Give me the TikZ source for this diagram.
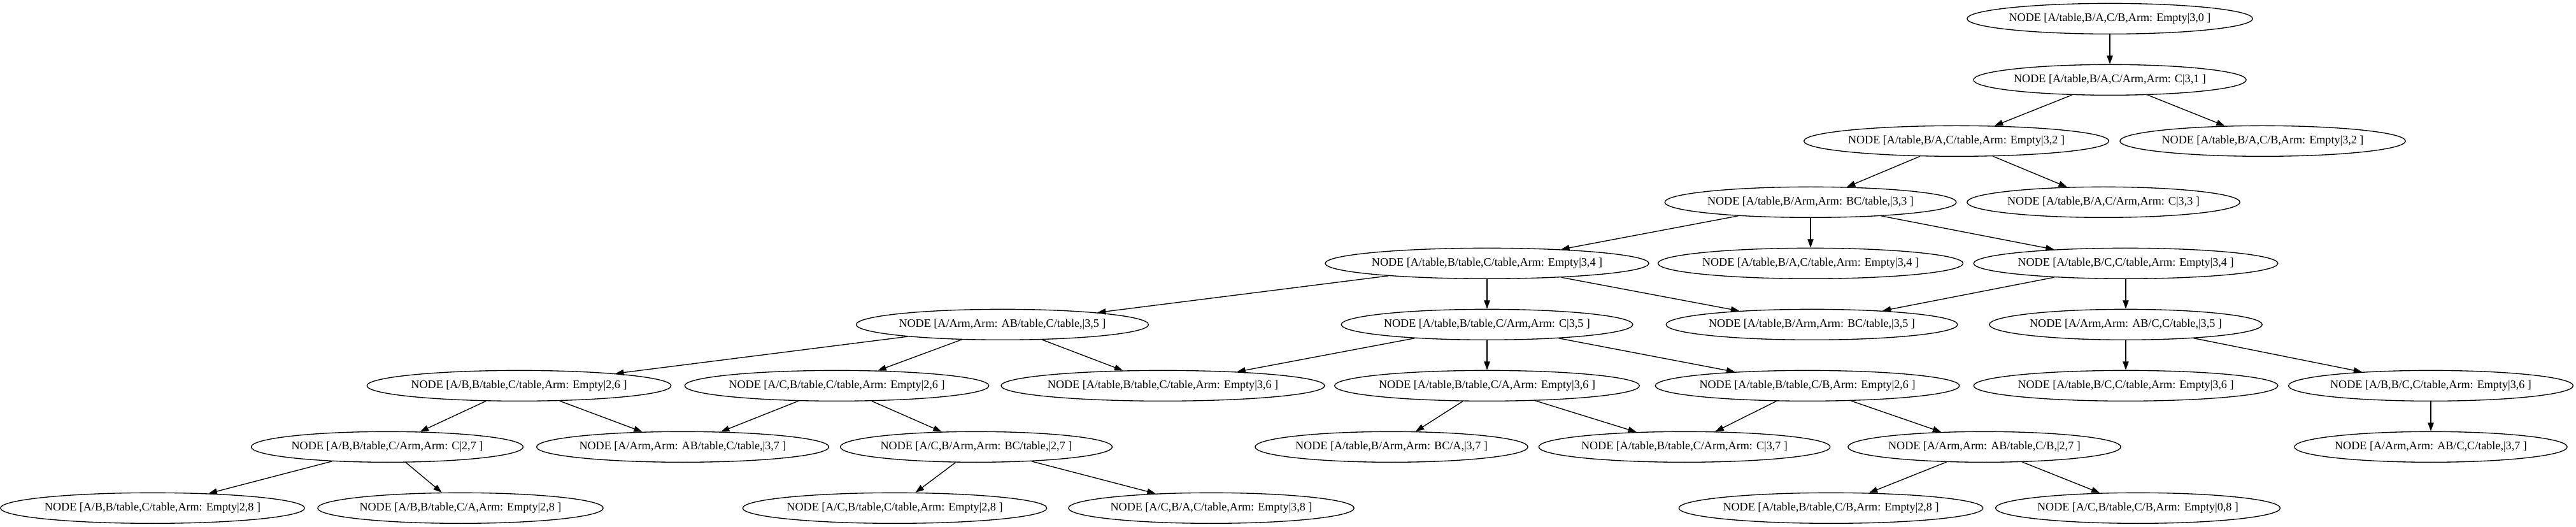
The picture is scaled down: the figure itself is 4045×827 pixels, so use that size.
\documentclass[tikz,border=0pt]{standalone}
\usepackage{fontspec}
\setmainfont{Liberation Serif}
\usetikzlibrary{arrows.meta,shapes.geometric}
\newcommand{\lbl}[1]{\makebox[0.933\width]{#1}}
\tikzset{
  st/.style={ellipse, draw, line width=1pt, inner xsep=8pt, inner ysep=4pt,
    minimum height=36pt, font=\fontsize{13.6}{16}\selectfont},
  edge/.style={draw, line width=1pt, -{Triangle[length=10pt,width=7pt]}},
}
\begin{document}
\begin{tikzpicture}[x=0.75pt,y=-0.75pt]
\fill[white] (0,0) rectangle (4045,827);
\useasboundingbox (0,0) rectangle (4045,827);
% rank 0
\node[st] (n0) at (3313,29.33) {\lbl{NODE [A/table,B/A,C/B,Arm: Empty|3,0 ]}};
% rank 1
\node[st] (n1) at (3313,125.33) {\lbl{NODE [A/table,B/A,C/Arm,Arm: C|3,1 ]}};
% rank 2
\node[st] (n2a) at (3072,221.33) {\lbl{NODE [A/table,B/A,C/table,Arm: Empty|3,2 ]}};
\node[st] (n2b) at (3553,221.33) {\lbl{NODE [A/table,B/A,C/B,Arm: Empty|3,2 ]}};
% rank 3
\node[st] (n3a) at (2843,317.33) {\lbl{NODE [A/table,B/Arm,Arm: BC/table,|3,3 ]}};
\node[st] (n3b) at (3303,317.33) {\lbl{NODE [A/table,B/A,C/Arm,Arm: C|3,3 ]}};
% rank 4
\node[st] (n4a) at (2335,413.33) {\lbl{NODE [A/table,B/table,C/table,Arm: Empty|3,4 ]}};
\node[st] (n4b) at (2843,413.33) {\lbl{NODE [A/table,B/A,C/table,Arm: Empty|3,4 ]}};
\node[st] (n4c) at (3338,413.33) {\lbl{NODE [A/table,B/C,C/table,Arm: Empty|3,4 ]}};
% rank 5
\node[st] (n5a) at (1574,509.33) {\lbl{NODE [A/Arm,Arm: AB/table,C/table,|3,5 ]}};
\node[st] (n5b) at (2335,509.33) {\lbl{NODE [A/table,B/table,C/Arm,Arm: C|3,5 ]}};
\node[st] (n5c) at (2845,509.33) {\lbl{NODE [A/table,B/Arm,Arm: BC/table,|3,5 ]}};
\node[st] (n5d) at (3338,509.33) {\lbl{NODE [A/Arm,Arm: AB/C,C/table,|3,5 ]}};
% rank 6
\node[st] (n6a) at (815,605.33) {\lbl{NODE [A/B,B/table,C/table,Arm: Empty|2,6 ]}};
\node[st] (n6b) at (1314,605.33) {\lbl{NODE [A/C,B/table,C/table,Arm: Empty|2,6 ]}};
\node[st] (n6c) at (1826,605.33) {\lbl{NODE [A/table,B/table,C/table,Arm: Empty|3,6 ]}};
\node[st] (n6d) at (2335,605.33) {\lbl{NODE [A/table,B/table,C/A,Arm: Empty|3,6 ]}};
\node[st] (n6e) at (2838,605.33) {\lbl{NODE [A/table,B/table,C/B,Arm: Empty|2,6 ]}};
\node[st] (n6f) at (3338,605.33) {\lbl{NODE [A/table,B/C,C/table,Arm: Empty|3,6 ]}};
\node[st] (n6g) at (3817,605.33) {\lbl{NODE [A/B,B/C,C/table,Arm: Empty|3,6 ]}};
% rank 7
\node[st] (n7a) at (608,701.33) {\lbl{NODE [A/B,B/table,C/Arm,Arm: C|2,7 ]}};
\node[st] (n7b) at (1072,701.33) {\lbl{NODE [A/Arm,Arm: AB/table,C/table,|3,7 ]}};
\node[st] (n7c) at (1533,701.33) {\lbl{NODE [A/C,B/Arm,Arm: BC/table,|2,7 ]}};
\node[st] (n7d) at (2185,701.33) {\lbl{NODE [A/table,B/Arm,Arm: BC/A,|3,7 ]}};
\node[st] (n7e) at (2645,701.33) {\lbl{NODE [A/table,B/table,C/Arm,Arm: C|3,7 ]}};
\node[st] (n7f) at (3116,701.33) {\lbl{NODE [A/Arm,Arm: AB/table,C/B,|2,7 ]}};
\node[st] (n7g) at (3817,701.33) {\lbl{NODE [A/Arm,Arm: AB/C,C/table,|3,7 ]}};
% rank 8
\node[st] (n8a) at (239.5,797.33) {\lbl{NODE [A/B,B/table,C/table,Arm: Empty|2,8 ]}};
\node[st] (n8b) at (723,797.33) {\lbl{NODE [A/B,B/table,C/A,Arm: Empty|2,8 ]}};
\node[st] (n8c) at (1405,797.33) {\lbl{NODE [A/C,B/table,C/table,Arm: Empty|2,8 ]}};
\node[st] (n8d) at (1902,797.33) {\lbl{NODE [A/C,B/A,C/table,Arm: Empty|3,8 ]}};
\node[st] (n8e) at (2875,797.33) {\lbl{NODE [A/table,B/table,C/B,Arm: Empty|2,8 ]}};
\node[st] (n8f) at (3357,797.33) {\lbl{NODE [A/C,B/table,C/B,Arm: Empty|0,8 ]}};
% edges
\draw[edge] (n0) -- (n1);
\draw[edge] (n1) -- (n2a);
\draw[edge] (n1) -- (n2b);
\draw[edge] (n2a) -- (n3a);
\draw[edge] (n2a) -- (n3b);
\draw[edge] (n3a) -- (n4a);
\draw[edge] (n3a) -- (n4b);
\draw[edge] (n3a) -- (n4c);
\draw[edge] (n4a) -- (n5a);
\draw[edge] (n4a) -- (n5b);
\draw[edge] (n4a) -- (n5c);
\draw[edge] (n4c) -- (n5c);
\draw[edge] (n4c) -- (n5d);
\draw[edge] (n5a) -- (n6a);
\draw[edge] (n5a) -- (n6b);
\draw[edge] (n5a) -- (n6c);
\draw[edge] (n5b) -- (n6c);
\draw[edge] (n5b) -- (n6d);
\draw[edge] (n5b) -- (n6e);
\draw[edge] (n5d) -- (n6f);
\draw[edge] (n5d) -- (n6g);
\draw[edge] (n6a) -- (n7a);
\draw[edge] (n6a) -- (n7b);
\draw[edge] (n6b) -- (n7b);
\draw[edge] (n6b) -- (n7c);
\draw[edge] (n6d) -- (n7d);
\draw[edge] (n6d) -- (n7e);
\draw[edge] (n6e) -- (n7e);
\draw[edge] (n6e) -- (n7f);
\draw[edge] (n6g) -- (n7g);
\draw[edge] (n7a) -- (n8a);
\draw[edge] (n7a) -- (n8b);
\draw[edge] (n7c) -- (n8c);
\draw[edge] (n7c) -- (n8d);
\draw[edge] (n7f) -- (n8e);
\draw[edge] (n7f) -- (n8f);
\end{tikzpicture}
\end{document}
